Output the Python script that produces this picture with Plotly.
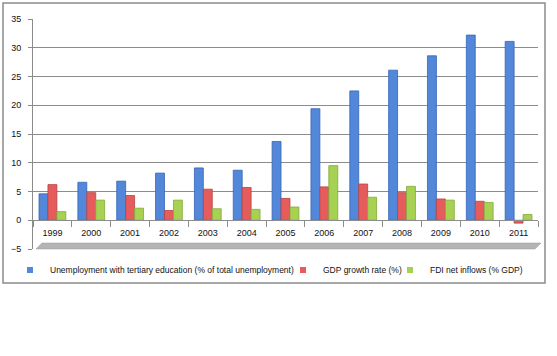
import plotly.graph_objects as go

years = ["1999", "2000", "2001", "2002", "2003", "2004", "2005",
         "2006", "2007", "2008", "2009", "2010", "2011"]
unemp_tertiary = [4.6, 6.6, 6.8, 8.2, 9.1, 8.7, 13.7, 19.4, 22.5, 26.1, 28.6, 32.2, 31.1]
gdp_growth = [6.2, 4.8, 4.3, 1.7, 5.4, 5.7, 3.8, 5.8, 6.3, 4.8, 3.7, 3.3, -0.5]
fdi_inflows = [1.5, 3.5, 2.1, 3.5, 2.0, 1.9, 2.3, 9.5, 4.0, 5.9, 3.5, 3.1, 1.0]
y_ticks = [-5, 0, 5, 10, 15, 20, 25, 30, 35]

names = ["Unemployment with tertiary education (% of total unemployment)",
         "GDP growth rate (%)", "FDI net inflows (% GDP)"]
fills = ["#5287da", "#e65c5c", "#a6d152"]
edges = ["#3566b5", "#b54442", "#84a83a"]
series = [unemp_tertiary, gdp_growth, fdi_inflows]
legend_ids = ["legend", "legend2", "legend3"]

fig = go.Figure()
for n, vals, fc, ec in zip(names, series, fills, edges):
    fig.add_trace(go.Bar(x=years, y=vals, name=n, showlegend=False,
                         marker=dict(color=fc, line=dict(color=ec, width=0.8))))
# legend entries (small square keys like the original)
for n, fc, lg in zip(names, fills, legend_ids):
    fig.add_trace(go.Scatter(x=[None], y=[None], mode="markers", name=n, legend=lg,
                             marker=dict(symbol="square", size=6, color=fc)))

L, R, T, B = 33, 19, 19, 107
W, H = 557, 356
pw, ph = W - L - R, H - T - B
def px(x): return (x - L) / pw
def py(y): return (H - B - y) / ph

font = "Liberation Sans"
lg_common = dict(orientation="h", xanchor="left", yanchor="middle", y=py(270),
                 font=dict(size=8.5, family=font, color="#111"),
                 bgcolor="rgba(0,0,0,0)", borderwidth=0)
fig.update_layout(
    width=W, height=H,
    margin=dict(l=L, r=R, t=T, b=B, autoexpand=False),
    paper_bgcolor="white", plot_bgcolor="white",
    barmode="group", bargap=0.31, bargroupgap=0.0,
    font=dict(family=font, size=9, color="#111"),
    showlegend=True,
    legend=dict(x=px(10), **lg_common),
    legend2=dict(x=px(283), **lg_common),
    legend3=dict(x=px(390), **lg_common),
    xaxis=dict(type="category", anchor="free", position=5 / 40,
               showline=True, linecolor="#8c8c8c", linewidth=1,
               ticks="outside", tickson="boundaries", ticklen=6, tickcolor="#8c8c8c",
               ticklabelstandoff=4,
               showgrid=False, tickfont=dict(size=9, family=font, color="#111")),
    yaxis=dict(range=[-5, 35], tickvals=y_ticks, showline=True, linecolor="#8c8c8c",
               ticks="outside", ticklen=4, tickcolor="#8c8c8c", ticklabelstandoff=5,
               gridcolor="#8c8c8c", gridwidth=1, zeroline=False,
               tickfont=dict(size=9, family=font, color="#111")),
    shapes=[
        # outer chart border
        dict(type="rect", xref="paper", yref="paper",
             x0=px(3), x1=px(545), y0=py(283), y1=py(3),
             line=dict(color="#8c8c8c", width=1.5), fillcolor="rgba(0,0,0,0)", layer="below"),
        # 3D floor shadow
        dict(type="path", xref="paper", yref="paper",
             path=f"M {px(36)},{py(249)} L {px(535)},{py(249)} L {px(541)},{py(243)} L {px(42)},{py(243)} Z",
             line=dict(color="#9a9a9a", width=0.5), fillcolor="#b4b4b4", layer="below"),
    ],
)
fig.write_html("out.html", config={"displayModeBar": False},
               post_script="document.body.style.margin='0';document.body.style.overflow='hidden';")
